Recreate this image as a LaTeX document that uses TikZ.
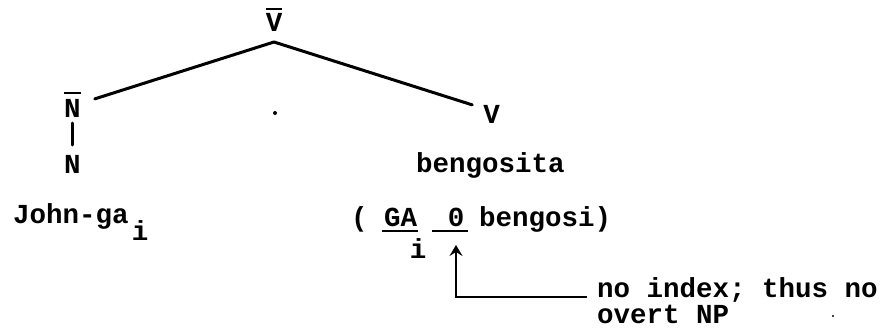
\documentclass[tikz,border=0pt]{standalone}
\usepackage{fontspec}
\setmonofont{Liberation Mono}
\usetikzlibrary{arrows.meta}

\begin{document}
\begin{tikzpicture}[
  x=1pt, y=-1pt,
  font=\fontsize{27.5}{30}\selectfont\ttfamily\bfseries,
  lbl/.style    ={inner sep=0pt, outer sep=0pt},
  edge/.style   ={draw=black, line width=3pt, line cap=round},
  bar/.style    ={draw=black, line width=2pt},
  uline/.style  ={draw=black, line width=1.6pt},
  ptr/.style    ={-{Stealth[length=11pt,width=13pt,inset=4pt]}, line width=2.2pt, draw=black},
  speck/.style  ={fill=black},
]
\useasboundingbox (0,0) rectangle (893,329);

% ----- tree nodes --------------------------------------------------------
\node[lbl,anchor=base] (vbar) at (274,32)   {V};
\node[lbl,anchor=base] (nbar) at (72.5,117) {N};
\node[lbl,anchor=base] (nn)   at (72.5,173) {N};
\node[lbl,anchor=base] (vv)   at (491.5,123){V};

\draw[bar] ([yshift=5pt]vbar.north west) -- ([yshift=5pt]vbar.north east);
\draw[bar] ([yshift=6pt]nbar.north west) -- ([yshift=6pt]nbar.north east);

\draw[edge] ([yshift=-10pt]vbar.base) -- ([xshift=14pt]nbar.north east);
\draw[edge] ([yshift=-10pt]vbar.base) -- ([xshift=-11pt]vv.north west);
\draw[edge] ([yshift=-6pt]nbar.base) -- ([yshift=28pt]nn.base);

% ----- words -------------------------------------------------------------
\node[lbl,anchor=base west] (john) at (13,223)  {John-ga};
\node[lbl,anchor=base]      (ji)   at (140,240) {i};
\node[lbl,anchor=base west] (beng) at (416,172) {bengosita};

% ----- ( GA_i _0 bengosi) ------------------------------------------------
\node[lbl,anchor=base west] (lpar) at (351,226) {(};
\node[lbl,anchor=base west] (ga)   at (384,226) {GA};
\node[lbl,anchor=base]      (gi)   at (418,258) {i};
\node[lbl,anchor=base]      (zero) at (456,226) {0};
\node[lbl,anchor=base west] (rest) at (479,226) {bengosi)};
\draw[uline] ([xshift=-2pt,yshift=-5pt]ga.base west) -- ([xshift=1pt,yshift=-5pt]ga.base east);
\draw[uline] ([xshift=-24pt,yshift=-5pt]zero.base) -- ([xshift=12pt,yshift=-5pt]zero.base);

% ----- comment on the gap ------------------------------------------------
\node[lbl,anchor=base west] (noidx) at (597,297) {no index; thus no};
\node[lbl,anchor=base west] (overt) at (597,323) {overt NP};
\draw[ptr] ([xshift=-10pt]noidx.base west) -| ([yshift=-19pt]zero.base);

% ----- specks of the original ---------------------------------------------
\fill[speck] (275,113) circle (2pt);
\fill[speck] (833,316) circle (1.2pt);

\end{tikzpicture}
\end{document}
